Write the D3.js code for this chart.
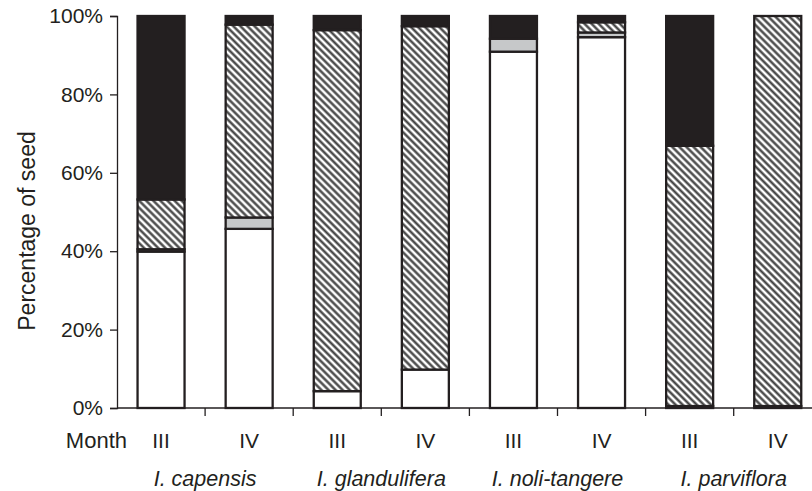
<!DOCTYPE html>
<html>
<head>
<meta charset="utf-8">
<script src="https://cdn.jsdelivr.net/npm/d3@7"></script>
<style>
  body { margin: 0; background: #fff; }
  svg { display: block; }
  text { font-family: "Liberation Sans", Arial, sans-serif; fill: #231f20; }
</style>
</head>
<body>
<svg id="chart" width="812" height="491"></svg>
<script>
// bars, left to right
var months = ["III", "IV", "III", "IV", "III", "IV", "III", "IV"];
var species = ["I. capensis", "I. glandulifera", "I. noli-tangere", "I. parviflora"];
var yTicks = [0, 20, 40, 60, 80, 100];

// percentages per segment, bottom to top
var white = [39.9, 45.7, 4.3, 9.8, 90.9, 94.6, 0.5, 0.5];
var grey  = [0.6, 2.9, 0, 0, 3.3, 1.2, 0, 0];
var hatch = [12.7, 49.2, 92.1, 87.6, 0, 2.6, 66.4, 99.5];
var black = [46.8, 2.2, 3.6, 2.6, 5.8, 1.6, 33.1, 0];

var keys = ["white", "grey", "hatch", "black"];
var rows = months.map(function(m, i) {
  return { id: i, white: white[i], grey: grey[i], hatch: hatch[i], black: black[i] };
});

var svg = d3.select("#chart");
var ink = "#231f20";

// hatch pattern
var defs = svg.append("defs");
var pat = defs.append("pattern")
    .attr("id", "hatch")
    .attr("patternUnits", "userSpaceOnUse")
    .attr("width", 5)
    .attr("height", 5)
    .attr("patternTransform", "rotate(-45)");
pat.append("rect").attr("width", 5).attr("height", 5).attr("fill", "#fff");
pat.append("line")
    .attr("x1", 1.5).attr("y1", 0).attr("x2", 1.5).attr("y2", 5)
    .attr("stroke", "#3c3c3c").attr("stroke-width", 2.3);

var fills = { white: "#fff", grey: "#c6c8c9", hatch: "url(#hatch)", black: ink };

var x = d3.scaleBand()
    .domain(d3.range(months.length))
    .range([117, 117 + 88.1 * months.length]);

var y = d3.scaleLinear()
    .domain([0, 100])
    .range([408, 16]);

var barW = 47;

var series = d3.stack().keys(keys)(rows);

svg.append("g")
  .selectAll("g")
  .data(series)
  .join("g")
    .attr("fill", function(s) { return fills[s.key]; })
  .selectAll("rect")
  .data(function(s) { return s.filter(function(d) { return d[1] - d[0] > 0; }); })
  .join("rect")
    .attr("x", function(d) { return x(d.data.id) + (x.bandwidth() - barW) / 2; })
    .attr("y", function(d) { return y(d[1]); })
    .attr("width", barW)
    .attr("height", function(d) { return y(d[0]) - y(d[1]); })
    .attr("stroke", ink)
    .attr("stroke-width", 2.3);

// y axis
var yAxis = svg.append("g")
    .attr("transform", "translate(117,0)")
    .call(d3.axisLeft(y).tickValues(yTicks).tickSize(7).tickPadding(7)
      .tickFormat(function(d) { return d + "%"; }));
yAxis.select(".domain").attr("stroke", ink).attr("stroke-width", 1.3);
yAxis.selectAll(".tick line").attr("stroke", ink).attr("stroke-width", 1.3);
yAxis.selectAll(".tick text").attr("font-size", 21).attr("fill", ink)
    .attr("font-family", "Liberation Sans, Arial, sans-serif");

// x axis: ticks on band boundaries
var xAxisG = svg.append("g");
xAxisG.append("line")
    .attr("x1", 117).attr("x2", 812)
    .attr("y1", 408).attr("y2", 408)
    .attr("stroke", ink).attr("stroke-width", 1.3);
xAxisG.selectAll("line.tk")
  .data(d3.range(1, months.length))
  .join("line")
    .attr("class", "tk")
    .attr("x1", function(i) { return x(i); })
    .attr("x2", function(i) { return x(i); })
    .attr("y1", 408).attr("y2", 416)
    .attr("stroke", ink).attr("stroke-width", 1.3);

// month labels
svg.append("text")
    .attr("x", 127).attr("y", 448)
    .attr("text-anchor", "end")
    .attr("font-size", 22)
    .text("Month");

svg.append("g").selectAll("text")
  .data(months)
  .join("text")
    .attr("x", function(d, i) { return x(i) + x.bandwidth() / 2; })
    .attr("y", 448)
    .attr("text-anchor", "middle")
    .attr("font-size", 21)
    .text(function(d) { return d; });

// species labels
svg.append("g").selectAll("text")
  .data(species)
  .join("text")
    .attr("x", function(d, i) { return x(i * 2) + x.bandwidth(); })
    .attr("y", 486)
    .attr("text-anchor", "middle")
    .attr("font-size", 21.5)
    .attr("font-style", "italic")
    .text(function(d) { return d; });

// y label
svg.append("text")
    .attr("transform", "translate(35,231) rotate(-90)")
    .attr("text-anchor", "middle")
    .attr("font-size", 23)
    .text("Percentage of seed");
</script>
</body>
</html>
